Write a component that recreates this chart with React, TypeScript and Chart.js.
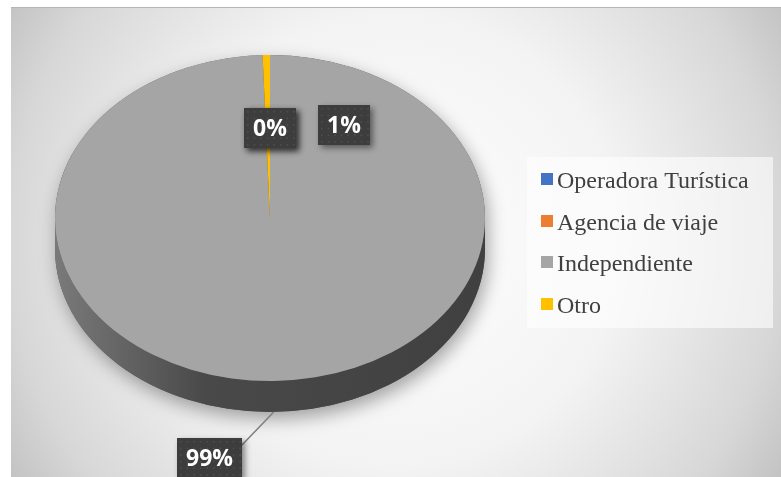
import { useEffect, useRef } from "react";
import { Chart, registerables } from "chart.js";

Chart.register(...registerables);

// ---- data ----
const CATEGORIES = ["Operadora Turística", "Agencia de viaje", "Independiente", "Otro"];
const SHARES = [0, 0, 99.45, 0.55];
const COLORS = ["#4472c4", "#ed7d31", "#a5a5a5", "#ffc000"];

// ---- style / layout constants ----
const W = 770;
const H = 470;
const RADIUS = 215;
const TILT = 163 / 215;
const DEPTH = 31;
const LABEL_R = 0.55;
const LABEL_SHIFT: [number, number][] = [[0, 0], [0, 0], [0, 0], [76, -3]];
const OUTSIDE_LABEL = 2;
const LEADER_OFFSET: [number, number] = [-64, 46];

function shade(hex: string, f: number) {
  const n = parseInt(hex.slice(1), 16);
  const r = Math.round(((n >> 16) & 255) * f);
  const g = Math.round(((n >> 8) & 255) * f);
  const b = Math.round((n & 255) * f);
  return `rgb(${r},${g},${b})`;
}

function drawLabelBox(ctx: CanvasRenderingContext2D, cx: number, cy: number, text: string) {
  ctx.save();
  ctx.font = 'bold 23px "Open Sans"';
  const tw = ctx.measureText(text).width;
  const w = Math.round(tw + 18);
  const h = 40;
  const x = Math.round(cx - w / 2);
  const y = Math.round(cy - h / 2);
  ctx.save();
  ctx.shadowColor = "rgba(0,0,0,0.45)";
  ctx.shadowBlur = 6;
  ctx.shadowOffsetX = 3;
  ctx.shadowOffsetY = 3;
  ctx.fillStyle = "#3d3d3d";
  ctx.fillRect(x, y, w, h);
  ctx.restore();
  ctx.save();
  ctx.beginPath();
  ctx.rect(x, y, w, h);
  ctx.clip();
  ctx.fillStyle = "rgba(255,255,255,0.09)";
  for (let yy = y + 3; yy < y + h; yy += 6.6) {
    for (let xx = x + 3; xx < x + w; xx += 6.6) {
      ctx.fillRect(xx, yy, 1.6, 1.6);
    }
  }
  ctx.restore();
  ctx.fillStyle = "#ffffff";
  ctx.textAlign = "center";
  ctx.textBaseline = "middle";
  ctx.fillText(text, x + w / 2, y + h / 2 + 1);
  ctx.restore();
  return { x, y, w, h };
}

const pie3d = {
  id: "pie3d",
  beforeDraw(chart: any) {
    const ctx: CanvasRenderingContext2D = chart.ctx;
    ctx.save();
    const g = ctx.createRadialGradient(384, 233, 0, 384, 233, 455);
    g.addColorStop(0, "#ffffff");
    g.addColorStop(0.5, "#f3f3f3");
    g.addColorStop(0.85, "#d7d7d7");
    g.addColorStop(1, "#c2c2c2");
    ctx.fillStyle = g;
    ctx.fillRect(0, 0, W, H);
    ctx.fillStyle = "#b5b5b5";
    ctx.fillRect(0, 0, W, 1);
    ctx.restore();
  },
  beforeDatasetsDraw(chart: any) {
    const ctx: CanvasRenderingContext2D = chart.ctx;
    const arcs = chart.getDatasetMeta(0).data;
    const { x, y, outerRadius: r } = arcs[0].getProps(["x", "y", "outerRadius"], true);
    const ry = r * TILT;
    // shadow silhouette
    ctx.save();
    ctx.shadowColor = "rgba(0,0,0,0.35)";
    ctx.shadowBlur = 18;
    ctx.shadowOffsetX = 3;
    ctx.shadowOffsetY = 7;
    ctx.fillStyle = "#555";
    ctx.beginPath();
    ctx.ellipse(x, y, r, ry, 0, Math.PI, 2 * Math.PI);
    ctx.ellipse(x, y + DEPTH, r, ry, 0, 0, Math.PI);
    ctx.closePath();
    ctx.fill();
    ctx.restore();
    // side walls of each slice (front half only)
    arcs.forEach((arc: any, i: number) => {
      const { startAngle, endAngle } = arc.getProps(["startAngle", "endAngle"], true);
      if (endAngle - startAngle <= 0) return;
      const col = COLORS[i];
      const grad = ctx.createLinearGradient(x - r, 0, x + r, 0);
      grad.addColorStop(0, shade(col, 0.74));
      grad.addColorStop(0.35, shade(col, 0.44));
      grad.addColorStop(1, shade(col, 0.39));
      for (const s of [-2 * Math.PI, 0, 2 * Math.PI]) {
        const a = Math.max(startAngle + s, 0);
        const b = Math.min(endAngle + s, Math.PI);
        if (b > a) {
          ctx.save();
          ctx.fillStyle = grad;
          ctx.beginPath();
          ctx.ellipse(x, y, r, ry, 0, a, b);
          ctx.ellipse(x, y + DEPTH, r, ry, 0, b, a, true);
          ctx.closePath();
          ctx.fill();
          ctx.restore();
        }
      }
    });
    // tilt the top face
    ctx.save();
    ctx.translate(x, y);
    ctx.scale(1, TILT);
    ctx.translate(-x, -y);
  },
  afterDatasetsDraw(chart: any) {
    const ctx: CanvasRenderingContext2D = chart.ctx;
    ctx.restore();
    const arcs = chart.getDatasetMeta(0).data;
    const values: number[] = chart.data.datasets[0].data;
    const total = values.reduce((s, v) => s + v, 0);
    arcs.forEach((arc: any, i: number) => {
      const { x, y, outerRadius: r, startAngle, endAngle } = arc.getProps(
        ["x", "y", "outerRadius", "startAngle", "endAngle"],
        true
      );
      const mid = (startAngle + endAngle) / 2;
      const text = Math.round((values[i] / total) * 100) + "%";
      if (i === OUTSIDE_LABEL) {
        const ax = x + r * Math.cos(mid);
        const ay = y + r * TILT * Math.sin(mid) + DEPTH;
        const cx = ax + LEADER_OFFSET[0];
        const cy = ay + LEADER_OFFSET[1];
        ctx.font = 'bold 23px "Open Sans"';
        const w = Math.round(ctx.measureText(text).width + 18);
        ctx.save();
        ctx.strokeStyle = "#7f7f7f";
        ctx.lineWidth = 1.5;
        ctx.beginPath();
        ctx.moveTo(ax, ay);
        ctx.lineTo(Math.round(cx - w / 2) + w, cy - 13);
        ctx.stroke();
        ctx.restore();
        drawLabelBox(ctx, cx, cy, text);
      } else {
        const lx = x + r * LABEL_R * Math.cos(mid) + LABEL_SHIFT[i][0];
        const ly = y + r * TILT * LABEL_R * Math.sin(mid) + LABEL_SHIFT[i][1];
        drawLabelBox(ctx, lx, ly, text);
      }
    });
    // legend
    ctx.save();
    ctx.fillStyle = "rgba(255,255,255,0.6)";
    ctx.fillRect(516, 150, 246, 171);
    ctx.font = '24px "Liberation Serif"';
    ctx.textBaseline = "alphabetic";
    ctx.textAlign = "left";
    chart.data.labels.forEach((lab: string, i: number) => {
      const by = 181 + i * 41.7;
      ctx.fillStyle = COLORS[i];
      ctx.fillRect(530, Math.round(by - 15), 12, 12);
      ctx.fillStyle = "#404040";
      ctx.fillText(lab, 546, by);
    });
    ctx.restore();
  },
};

export default function App() {
  const ref = useRef<HTMLCanvasElement | null>(null);
  useEffect(() => {
    if (!ref.current) return;
    const chart = new Chart(ref.current, {
      type: "pie",
      data: {
        labels: CATEGORIES,
        datasets: [
          {
            data: SHARES,
            backgroundColor: COLORS,
            borderWidth: 0,
          },
        ],
      },
      options: {
        animation: false,
        responsive: false,
        events: [],
        radius: RADIUS,
        layout: { padding: { left: 0, right: 252, top: 0, bottom: 48 } },
        plugins: {
          legend: { display: false },
          tooltip: { enabled: false },
        },
      } as any,
      plugins: [pie3d],
    });
    return () => chart.destroy();
  }, []);
  return (
    <div style={{ position: "absolute", left: 11, top: 7, width: W, height: H }}>
      <canvas ref={ref} width={W} height={H} style={{ display: "block" }} />
    </div>
  );
}
